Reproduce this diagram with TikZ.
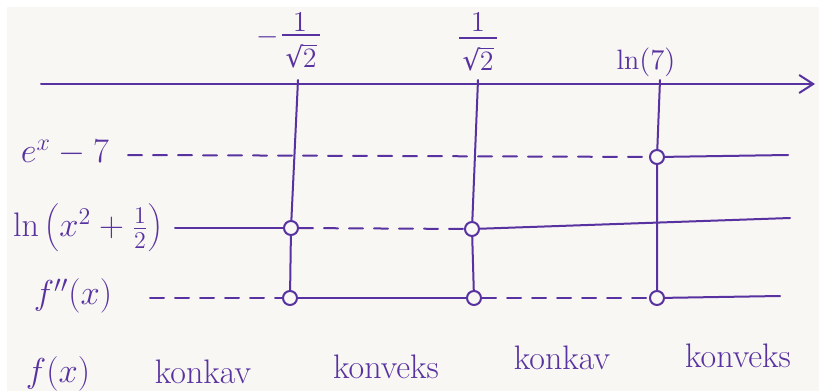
\documentclass[tikz,border=0pt]{standalone}
\usepackage{fontspec}
\newfontfamily\radfont{DejaVu Serif}
\usetikzlibrary{arrows.meta}
\definecolor{ink}{RGB}{88,50,160}
\definecolor{paper}{RGB}{248,247,243}
\newcommand{\rootoftwo}{{\radfont √}\kern-0.3pt 2}
\begin{document}
\begin{tikzpicture}[x=0.5pt,y=-0.5pt,
  pen/.style={draw=ink,line width=1pt,line cap=round},
  dashpen/.style={pen,dash pattern=on 7pt off 5.5pt},
  zero/.style={circle,draw=ink,line width=1pt,fill=none,minimum size=7pt,inner sep=0pt},
  lbl/.style={text=ink,inner sep=0pt,font=\fontsize{17}{19}\selectfont},
  ticklbl/.style={text=ink,inner sep=0pt,font=\fontsize{14}{16}\selectfont},
  fracbar/.style={draw=ink,line width=0.7pt}]
  % sheet
  \fill[white] (0,0) rectangle (819,391);
  \fill[paper] (7,7) rectangle (819,391);
  \useasboundingbox (0,0) rectangle (819,391);

  % x axis
  \coordinate (ax0) at (41,84);
  \coordinate (ax1) at (815,84);
  \draw[pen,-{Straight Barb[length=7pt,width=9pt]}] (ax0) -- (ax1);

  % critical points on the axis: -1/sqrt2
  \node[ticklbl] (m1) at (268,37) {$-$};
  \node[ticklbl] (n1) at (300,22) {$1$};
  \node[ticklbl,anchor=north] (d1) at (301,44) {\rootoftwo};
  \draw[fracbar] ([xshift=8.2pt,yshift=-0.6pt]d1.north west) -- ([yshift=-0.6pt]d1.north east);
  \draw[fracbar] ([xshift=-1.5pt,yshift=4.5pt]d1.north west) -- ([xshift=1.5pt,yshift=4.5pt]d1.north east);
  % 1/sqrt2
  \node[ticklbl] (n2) at (478,22) {$1$};
  \node[ticklbl,anchor=north] (d2) at (478,47) {\rootoftwo};
  \draw[fracbar] ([xshift=8.2pt,yshift=-0.6pt]d2.north west) -- ([yshift=-0.6pt]d2.north east);
  \draw[fracbar] ([xshift=-1.5pt,yshift=4.5pt]d2.north west) -- ([xshift=1.5pt,yshift=4.5pt]d2.north east);
  % ln 7
  \node[ticklbl] (t3) at (646,62) {$\ln(7)$};
  \coordinate (v1) at (298,80);
  \coordinate (v2) at (478,80);
  \coordinate (v3) at (660,80);

  % row labels
  \node[lbl] (r1) at (65,153) {$e^x-7$};
  \node[lbl] (r2) at (88,228) {$\ln\left(x^2+\frac12\right)$};
  \node[lbl] (r3) at (73,296) {$f''(x)$};
  \node[lbl] (r4) at (58,374) {$f(x)$};

  % zeros
  \node[zero] (z13) at (657,157) {};
  \node[zero] (z21) at (291,228) {};
  \node[zero] (z22) at (472,229) {};
  \node[zero] (z31) at (290,298) {};
  \node[zero] (z32) at (474,298) {};
  \node[zero] (z33) at (657,298) {};

  % vertical lines
  \draw[pen] (v1) -- (z21) -- (z31);
  \draw[pen] (v2) -- (z22) -- (z32);
  \draw[pen] (v3) -- (z13) -- (z33);

  % sign lines: e^x - 7
  \coordinate (a1) at (128,155);
  \coordinate (a2) at (788,155);
  \draw[dashpen] (a1) -- (z13);
  \draw[pen] (z13) -- (a2);

  % sign lines: ln(x^2 + 1/2)
  \coordinate (b1) at (175,228);
  \coordinate (b2) at (790,218);
  \draw[pen] (b1) -- (z21);
  \draw[dashpen] (z21) -- (z22);
  \draw[pen] (z22) -- (b2);

  % sign lines: f''(x)
  \coordinate (c1) at (150,298);
  \coordinate (c2) at (780,296);
  \draw[dashpen] (c1) -- (z31);
  \draw[pen] (z31) -- (z32);
  \draw[dashpen] (z32) -- (z33);
  \draw[pen] (z33) -- (c2);

  % concavity of f
  \node[lbl] (k1) at (203,372) {konkav};
  \node[lbl] (k2) at (386,367) {konveks};
  \node[lbl] (k3) at (562,358) {konkav};
  \node[lbl] (k4) at (738,356) {konveks};
\end{tikzpicture}
\end{document}
